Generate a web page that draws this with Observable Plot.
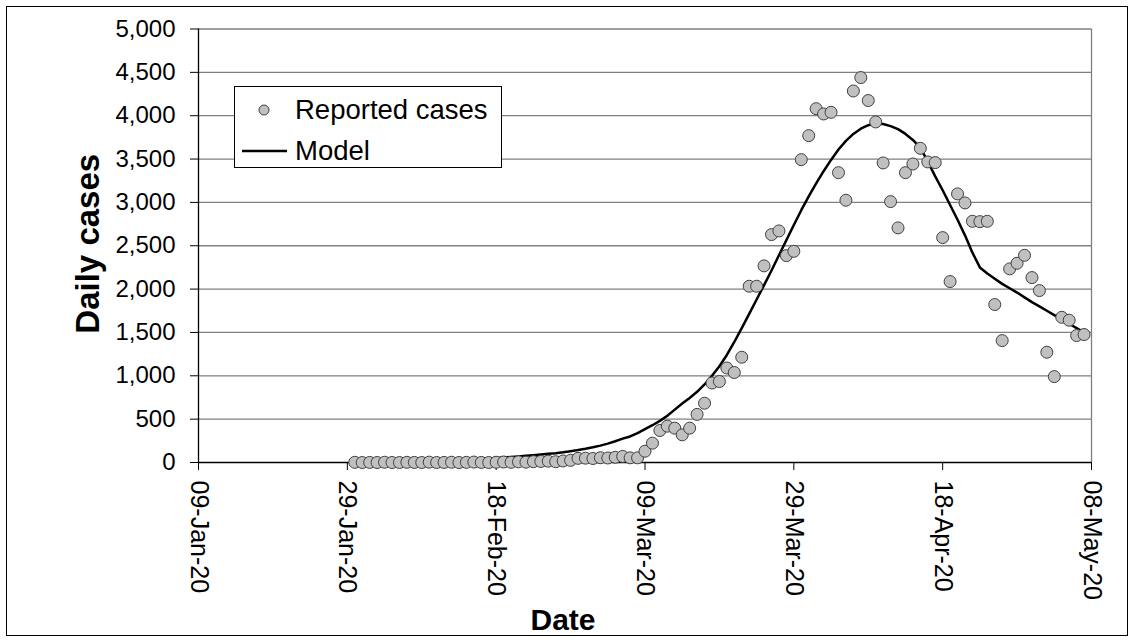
<!DOCTYPE html>
<html>
<head>
<meta charset="utf-8">
<script src="https://cdn.jsdelivr.net/npm/d3@7"></script>
<script src="https://cdn.jsdelivr.net/npm/@observablehq/plot@0.6"></script>
<style>
  html, body { margin: 0; padding: 0; background: #fff; }
  #wrap { position: relative; width: 1135px; height: 643px; font-family: 'Liberation Sans', Arial, sans-serif; }
  #border { position: absolute; left: 6px; top: 6px; width: 1122px; height: 630px; border: 1px solid #000; box-sizing: border-box; pointer-events: none; }
  #legend { position: absolute; left: 234px; top: 86px; width: 268px; height: 82px; border: 1px solid #000; box-sizing: border-box; background: #fff; }
  #legend .item { position: absolute; left: 0; height: 30px; display: flex; align-items: center; font-size: 27.5px; color: #000; white-space: nowrap; }
</style>
</head>
<body>
<div id="wrap">
  <div id="chart"></div>
  <div id="legend">
    <div class="item" style="top:8px">
      <svg width="60" height="30" style="display:block"><circle cx="29" cy="15" r="5" fill="#c0c0c0" stroke="#404040" stroke-width="1"></circle></svg>
      <span>Reported cases</span>
    </div>
    <div class="item" style="top:49px">
      <svg width="60" height="30" style="display:block"><line x1="7" x2="52" y1="15" y2="15" stroke="#000" stroke-width="2.5"></line></svg>
      <span>Model</span>
    </div>
  </div>
  <div id="border"></div>
</div>
<script>
// ---- Data ----
const startDate = "2020-01-30";
const reportedCases = [
  2,0,1,0,3,0,0,2,1,0,4,0,1,3,0,2,5,1,0,3,6,2,8,4,10,
  12,15,9,18,25,48,50,46,55,52,60,70,54,54,
  130,223,369,419,396,319,396,555,684,917,
  934,1090,1038,1214,2033,2033,2268,2629,2671,2386,
  2436,3493,3770,4081,4020,4039,3343,3025,4285,4440,
  4175,3928,3455,3009,2706,3343,3443,3624,3467,3459,
  2594,2087,3098,2994,2782,2778,2782,1822,1406,2233,
  2298,2390,2133,1983,1272,991,1675,1641,1464,1476
];
const modelCases = [
  3,4,5,6,7,8,10,11,13,15,17,19,22,25,28,32,36,40,45,51,57,63,70,
  78,85,93,100,108,118,130,143,158,175,
  195,218,245,275,300,340,385,430,480,540,
  610,680,745,815,900,1000,1110,1240,1390,1550,
  1715,1880,2045,2215,2390,2565,2740,2910,3070,3220,
  3360,3490,3610,3710,3790,3850,3890,3910,3905,3880,
  3845,3790,3720,3630,3470,3300,3140,2970,2800,2620,
  2420,2250,2180,2120,2060,2010,1960,1905,1850,1800,
  1750,1700,1650,1600,1550,1500
];
const xTickDates = ["2020-01-09","2020-01-29","2020-02-18","2020-03-09","2020-03-29","2020-04-18","2020-05-08"];
const yTicks = [0,500,1000,1500,2000,2500,3000,3500,4000,4500,5000];
const xLabel = "Date";
const yLabel = "Daily cases";

// ---- Build ----
const DAY = 864e5;
const t0 = new Date(startDate + "T00:00:00Z").getTime();
const reportedData = reportedCases.map((v, i) => ({date: new Date(t0 + i * DAY), value: v}));
const modelData = modelCases.map((v, i) => ({date: new Date(t0 + i * DAY), value: v}));
const xTicks = xTickDates.map(s => new Date(s + "T00:00:00Z"));
const xmin = xTicks[0], xmax = xTicks[xTicks.length - 1];
const fmtDate = d3.utcFormat("%d-%b-%y");

const chart = Plot.plot({
  width: 1135,
  height: 643,
  marginLeft: 198,
  marginRight: 44,
  marginTop: 28.5,
  marginBottom: 181,
  style: {fontFamily: "'Liberation Sans', Arial, sans-serif", background: "transparent", color: "#000"},
  x: {type: "utc", domain: [xmin, xmax]},
  y: {domain: [0, 5000]},
  marks: [
    Plot.ruleY(yTicks.filter(d => d > 0), {stroke: "#808080", strokeWidth: 1.3}),
    Plot.ruleX([xmax], {stroke: "#808080", strokeWidth: 1.3}),
    Plot.axisY(yTicks, {tickFormat: d3.format(","), tickSize: 8, tickPadding: 15, fontSize: 24, label: null}),
    Plot.axisX(xTicks, {tickFormat: fmtDate, tickRotate: 90, tickSize: 8, tickPadding: 10, fontSize: 25, label: null}),
    Plot.ruleY([0], {stroke: "#000", strokeWidth: 1.3}),
    Plot.ruleX([xmin], {stroke: "#000", strokeWidth: 1.3}),
    Plot.line(modelData, {x: "date", y: "value", stroke: "#000", strokeWidth: 2.5}),
    Plot.dot(reportedData, {x: "date", y: "value", r: 6, fill: "#c0c0c0", stroke: "#404040", strokeWidth: 1}),
    Plot.text([xLabel], {frameAnchor: "bottom", textAnchor: "middle", lineAnchor: "middle", dx: -82, dy: 158, fontSize: 30, fontWeight: "bold"}),
    Plot.text([yLabel], {frameAnchor: "left", textAnchor: "middle", lineAnchor: "middle", dx: -110, dy: -2, rotate: -90, fontSize: 33, fontWeight: "bold"})
  ]
});
document.getElementById("chart").appendChild(chart);
</script>
</body>
</html>
